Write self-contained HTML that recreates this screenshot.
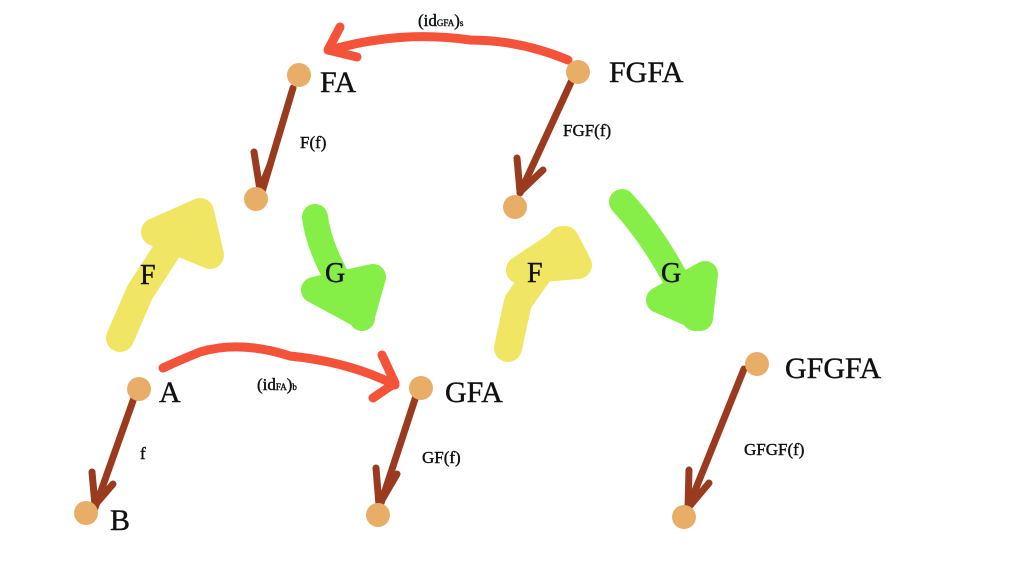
<!DOCTYPE html>
<html><head><style>body{margin:0;background:#fff}svg{display:block}text{font-family:"Liberation Serif",serif;fill:#111;stroke:#111;stroke-width:0.4}</style></head>
<body>
<svg width="1020" height="567" viewBox="0 0 1020 567">
<g fill="none" stroke-linecap="round" stroke-linejoin="round">
<g stroke="#f0e664" stroke-width="28">
<path d="M120,338 L140,292 L188,218"/><path d="M155,232 L200,212 L210,255 Z" fill="#f0e664"/>
<path d="M508,348 L518,302 L562,240"/><path d="M520,270 L565,240 L578,265 Z" fill="#f0e664"/>
</g>
<g stroke="#86ef47" stroke-width="26">
<path d="M315,217 Q320,258 362,318"/><path d="M314,290 L362,316 L373,277 Z" fill="#86ef47"/>
<path d="M622,202 Q662,245 695,318"/><path d="M659,300 L700,318 L705,274 Z" fill="#86ef47"/>
</g>
<g stroke="#f5523a" stroke-width="9">
<path d="M568,60 Q520,40 470,40 Q400,30 330,50"/><path d="M340,27 L328,50 L357,57"/>
<path d="M163,368 Q180,360 200,352 Q240,340 290,356 Q350,362 395,385"/><path d="M382,355 L395,383 L373,398"/>
</g>
<g stroke="#9a3b1f" stroke-width="7">
<path d="M293,88 L262,192"/><path d="M254,152 L260,190 L270,165"/>
<path d="M572,80 L520,193"/><path d="M517,158 L520,192 L543,170"/>
<path d="M134,398 L95,508"/><path d="M92,472 L95,505 L113,484"/>
<path d="M416,396 L380,506"/><path d="M376,468 L379,505 L397,474"/>
<path d="M744,369 L688,508"/><path d="M689,470 L688,508 L709,483"/>
</g>
</g>
<g fill="#e8ae68">
<circle cx="299" cy="75" r="12"/><circle cx="578" cy="72" r="12"/>
<circle cx="256" cy="199" r="12"/><circle cx="515" cy="207" r="12"/>
<circle cx="139" cy="389" r="12"/><circle cx="421" cy="388" r="12"/>
<circle cx="757" cy="364" r="12"/><circle cx="86" cy="513" r="12"/>
<circle cx="378" cy="515" r="12"/><circle cx="684" cy="517" r="12"/>
</g>
<g font-size="30">
<text x="320" y="92">FA</text><text x="609" y="82">FGFA</text>
<text x="159" y="402">A</text><text x="445" y="402">GFA</text>
<text x="785" y="378">GFGFA</text><text x="110" y="530">B</text>
</g>
<g font-size="28">
<text x="140" y="284">F</text><text x="325" y="282">G</text>
<text x="527" y="282">F</text><text x="661" y="282">G</text>
</g>
<g font-size="17">
<text x="300" y="148">F(f)</text><text x="563" y="136">FGF(f)</text>
<text x="140" y="459">f</text><text x="422" y="463">GF(f)</text>
<text x="744" y="455">GFGF(f)</text>
<text x="418" y="26">(id<tspan font-size="9">GFA</tspan>)<tspan font-size="9">s</tspan></text>
<text x="257" y="390">(id<tspan font-size="9">FA</tspan>)<tspan font-size="9">b</tspan></text>
</g>
</svg>
</body></html>
